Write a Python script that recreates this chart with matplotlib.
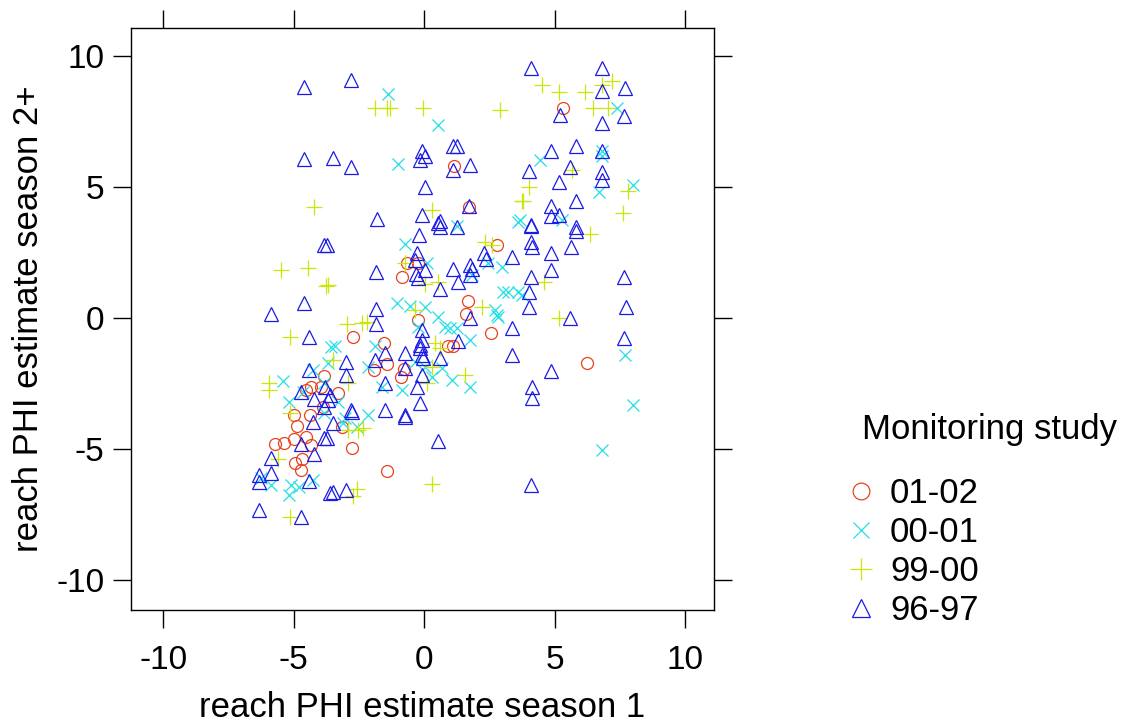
import matplotlib.pyplot as plt

plt.rcParams['font.family'] = ['Liberation Sans', 'DejaVu Sans']
plt.rcParams['axes.unicode_minus'] = False

# 01-02
x_0102 = [-4.98, -4.37, -4.87, -4.52, -5.71, -5.36, -4.98, -4.33, -4.67, -4.94, -4.71,
          -3.83, -4.33, -3.95, -4.52, -3.87, 2.8, -0.65, -0.23, -0.84, 1.69, 1.61, -0.23,
          2.57, -2.72, -1.53, 0.92, 1.11, -1.42, -1.92, -0.77, -0.88, -3.3, -3.14, -2.76,
          -1.42, 1.15, 1.72, 5.33, 6.24]
y_0102 = [-3.7, -3.7, -4.12, -4.54, -4.81, -4.77, -4.62, -4.85, -5.38, -5.53, -5.8,
          -2.2, -2.63, -2.63, -2.75, -3.4, 2.79, 2.1, 2.1, 1.56, 0.65, 0.15, -0.08,
          -0.57, -0.72, -0.95, -1.07, -1.07, -1.76, -1.98, -1.95, -2.25, -2.86, -4.16, -4.96,
          -5.84, 5.8, 4.24, 8.0, -1.72]

# 00-01
x_0001 = [-1.38, 0.54, -1.0, 3.6, 1.26, 7.39, 4.44, 6.82, 6.82, 8.0, 6.7, 5.29, 3.68,
          -0.73, 0.11, 2.45, 2.99, 1.84, 3.03, 3.22, 3.6, 3.75, -1.03, -0.54, 0.04, 2.72,
          2.8, 2.84, 0.54, 0.8, 1.0, 1.26, -0.23, -3.41, -1.88, 1.76, -2.15, -0.34, 0.04,
          0.69, 0.31, 1.07, 1.76, -1.61, -0.84, -3.3, -2.15, -3.03, -3.56, -3.68, -4.25,
          -5.4, -3.83, -4.63, -5.17, -3.83, -5.86, -5.1, -5.17, -4.79, -4.25, -6.25, -3.1,
          -2.57, 7.7, 8.0, 6.82]
y_0001 = [8.55, 7.37, 5.88, 3.66, 3.5, 8.0, 6.03, 6.37, 6.18, 5.08, 4.81, 3.74, 3.74,
          2.82, 2.1, 2.1, 1.95, 1.64, 0.99, 0.99, 0.99, 0.88, 0.57, 0.46, 0.42, 0.31,
          0.11, 0.04, 0.04, -0.34, -0.38, -0.38, -0.34, -1.07, -1.07, -0.84, -1.87, -1.68,
          -1.87, -1.91, -2.25, -2.37, -2.63, -2.63, -2.75, -3.2, -3.7, -3.82, -1.1, -1.72,
          -1.98, -2.4, -2.48, -2.82, -3.2, -3.63, -6.37, -6.37, -6.76, -6.45, -6.18, -6.1,
          -4.0, -4.16, -1.41, -3.32, -5.04]

# 99-00
x_9900 = [-4.21, -1.88, -1.42, -1.3, -0.04, 2.91, 0.31, 3.75, 4.52, 5.17, 6.17, 6.82,
          7.2, 6.48, 7.05, 5.67, 4.02, 3.79, 7.82, 7.62, -5.48, -4.44, -3.75, -5.13, -5.94,
          -5.94, -5.13, -3.68, 2.34, 2.61, -0.73, 0.04, 0.54, 2.22, -0.34, -2.95, -2.38,
          -2.18, 0.42, 0.61, -3.49, 0.31, 1.57, -2.91, 0.11, 6.36, 4.6, 5.17, -5.59, -5.13,
          -2.91, -2.53, -2.34, -2.57, -2.72, 0.31]
y_9900 = [4.24, 8.0, 8.0, 8.0, 8.0, 7.94, 4.12, 4.47, 8.89, 8.63, 8.63, 8.89,
          9.05, 8.0, 8.0, 5.65, 5.0, 4.47, 4.85, 4.0, 1.83, 1.91, 1.22, -0.73, -2.48,
          -2.75, -3.63, 1.26, 2.9, 2.79, 2.1, 1.3, 1.37, 0.42, 0.31, -0.23, -0.19,
          -0.15, -0.95, -1.15, -1.6, -1.87, -2.18, -2.48, -2.48, 3.21, 1.37, 0.0, -5.38, -7.6,
          -4.27, -4.27, -4.2, -6.53, -6.79, -6.34]

# 96-97
x_9697 = [-4.6, -4.6, -3.5, -2.8, -2.8, -0.08, 0.04, -0.15, 1.11, 1.26, 1.76, 1.11, 0.04,
          -1.8, -0.08, 0.61, 1.72, 4.1, 6.82, 7.7, 6.82, 5.21, 7.66, 6.82, 4.87, 5.82, 6.82,
          4.02, 5.59, 6.82, 6.82, 5.17, 5.82, 4.87, 4.87, 5.17, 4.1, 5.82, 4.1, 5.82, 4.1,
          4.14, 4.87, 5.63, 4.87, 4.1, 7.66, 4.02, 4.02, 7.74, 5.59, 7.66, 4.87, 4.14, 4.14,
          4.1, 0.54, 0.61, 1.26, -0.19, -3.72, 2.3, 2.38, 3.37, -0.27, -0.34, 0.04, -0.31,
          -0.23, -1.84, 1.11, 1.76, 1.84, 1.76, 1.3, 0.61, -1.84, -1.84, 1.76, 3.37, -0.08,
          -0.08, -0.15, -0.15, 1.3, -0.08, -0.04, -0.73, -1.49, 0.61, -1.88, -2.99, 3.37,
          -2.99, -0.73, -0.08, -1.49, -0.27, -3.79, -3.6, -3.68, -0.15, -1.49, -2.8, -0.73,
          -2.76, -0.73, -3.49, -3.72, 0.54, -3.49, -2.99, -3.83, -4.6, -5.86, -4.4, -4.4,
          -4.71, -4.21, -3.83, -4.25, -3.83, -4.71, -4.21, -5.86, -6.32, -6.32, -5.86, -4.4,
          -3.6, -6.32, -4.71]
y_9697 = [8.82, 6.07, 6.1, 9.08, 5.76, 6.37, 6.18, 6.03, 6.56, 6.56, 5.84, 5.65, 5.0,
          3.78, 3.93, 3.7, 4.27, 9.54, 9.54, 8.78, 8.66, 7.75, 7.71, 7.44, 6.37, 6.56, 6.37,
          5.61, 5.76, 5.57, 5.27, 5.19, 4.47, 4.27, 3.89, 3.93, 3.55, 3.47, 3.51, 3.32, 2.9,
          2.71, 2.48, 2.71, 1.83, 1.56, 1.56, 0.99, 0.42, 0.42, 0.0, -0.76, -2.02, -2.63, -3.05,
          -6.37, 3.62, 3.47, 3.47, 3.17, 2.79, 2.48, 2.25, 2.33, 2.48, 2.21, 1.83, 1.68,
          1.53, 1.76, 1.87, 2.02, 1.87, 1.64, 1.37, 1.1, 0.34, -0.23, 0.0, -0.38, -0.46,
          -0.84, -1.03, -1.15, -0.88, -1.41, -1.53, -1.34, -1.34, -1.53, -1.6, -1.68, -1.41,
          -2.18, -1.91, -2.18, -2.48, -2.63, -2.63, -2.94, -3.13, -3.24, -3.51, -3.51, -3.7,
          -3.59, -3.78, -4.0, -4.58, -4.69, -6.64, -6.56, 2.79, 0.57, 0.15, -0.73, -1.98,
          -2.82, -3.09, -3.4, -3.97, -4.58, -4.81, -5.19, -5.34, -5.99, -6.26, -5.92, -6.22,
          -6.68, -7.33, -7.6]

groups = ['01-02', '00-01', '99-00', '96-97']
xs = [x_0102, x_0001, x_9900, x_9697]
ys = [y_0102, y_0001, y_9900, y_9697]
markers = ['o', 'x', '+', '^']
colors = ['#E8421F', '#22E0E6', '#CCE60A', '#1A1AE6']
sizes = [8.6, 8.6, 11, 9.5]

fig = plt.figure(figsize=(11.26, 7.24), dpi=100)
ax = fig.add_axes([131 / 1126, 1 - 610 / 724, 583 / 1126, 582 / 724])

for gx, gy, lab, m, c, s in zip(xs, ys, groups, markers, colors, sizes):
    ax.plot(gx, gy, linestyle='none', marker=m, markersize=s, markerfacecolor='none',
            markeredgecolor=c, markeredgewidth=0.9, label=lab)

ax.set_xlim(-11.23, 11.11)
ax.set_ylim(-11.15, 11.07)
ax.set_xticks([-10, -5, 0, 5, 10])
ax.set_yticks([-10, -5, 0, 5, 10])
ax.tick_params(direction='out', length=13, width=1, labelsize=24,
               top=True, right=True, labeltop=False, labelright=False)
ax.tick_params(axis='x', pad=12)
ax.tick_params(axis='y', pad=6)
for sp in ax.spines.values():
    sp.set_linewidth(1)
ax.set_xlabel('reach PHI estimate season 1', fontsize=25, labelpad=11)
ax.set_ylabel('reach PHI estimate season 2+', fontsize=25, labelpad=8)

fig.text(862 / 1126, 1 - 430 / 724, 'Monitoring study', fontsize=25,
         ha='left', va='center')
fig.legend(loc='upper left', bbox_to_anchor=(851 / 1126, 1 - 477 / 724),
           frameon=False, fontsize=25, handlelength=0.6, handletextpad=0.52,
           labelspacing=0.17, borderaxespad=0, borderpad=0, markerscale=1.4)

fig.savefig('out.png', dpi=100)
